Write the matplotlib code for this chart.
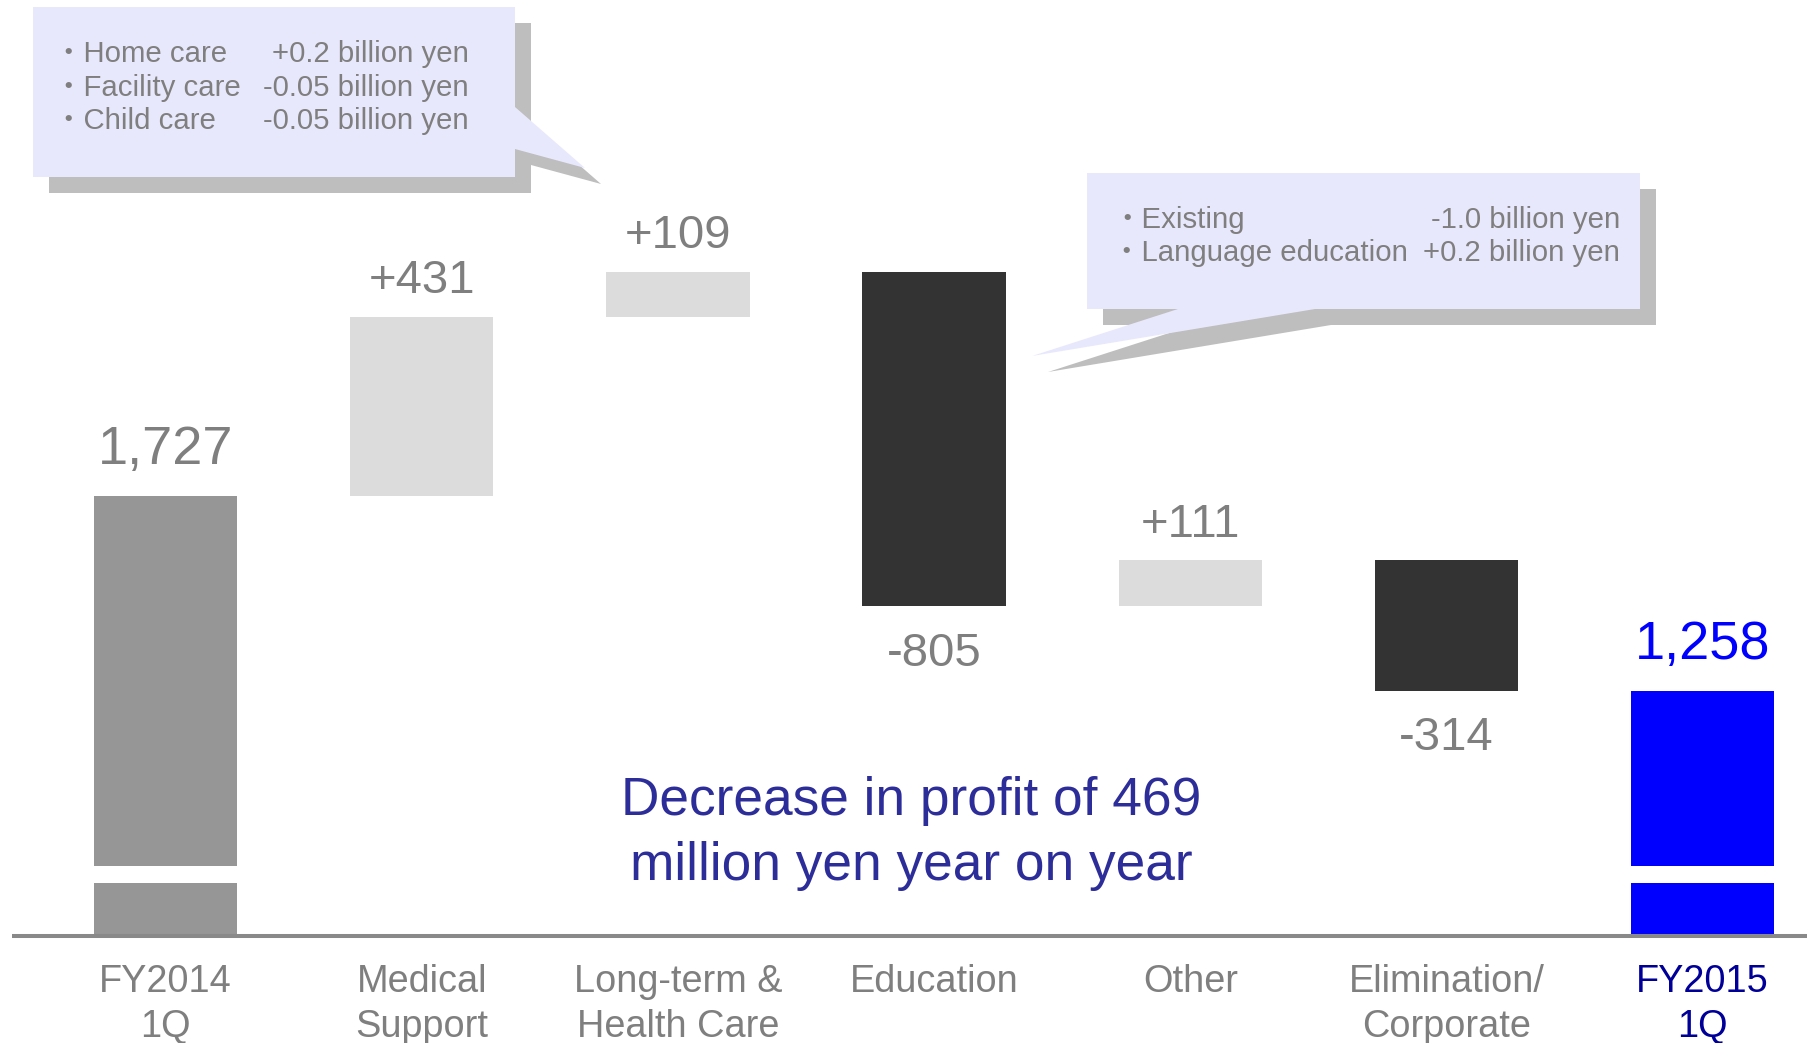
import matplotlib.pyplot as plt
from matplotlib.patches import Polygon

plt.rcParams['font.family'] = ['Liberation Sans', 'Noto Sans CJK JP', 'DejaVu Sans']

# -------------------------
# Data (million yen)
# -------------------------
categories = ["FY2014\n1Q", "Medical\nSupport", "Long-term &\nHealth Care",
              "Education", "Other", "Elimination/\nCorporate", "FY2015\n1Q"]
start_total = 1727
changes = [431, 109, -805, 111, -314]
end_total = 1258

note_lines = ["Decrease in profit of 469", "million yen year on year"]
callout_left = [("・Home care", "+0.2 billion yen"),
                ("・Facility care", "-0.05 billion yen"),
                ("・Child care", "-0.05 billion yen")]
callout_right = [("・Existing", "-1.0 billion yen"),
                 ("・Language education", "+0.2 billion yen")]

# broken value axis: totals start here, with a white cut band
axis_start = 669
cut_lo, cut_hi = 796, 837

# -------------------------
# Figure
# -------------------------
W, H = 1808, 1043
fig = plt.figure(figsize=(W / 100, H / 100), dpi=100)
ax = fig.add_axes([0, 0, 1, 1])
ax.axis("off")
ax.set_xlim(-0.646, 6.411)
ax.set_ylim(412, 2920)

def fx(px):
    return px / W

def fy(py):
    return 1 - py / H

gray_txt = "#7F7F7F"

# -------------------------
# Waterfall bars
# -------------------------
n = len(categories)
xs = list(range(n))
bottoms = [axis_start]
heights = [start_total - axis_start]
colors = ["#969696"]
level = start_total
for c in changes:
    bottoms.append(level if c > 0 else level + c)
    heights.append(abs(c))
    colors.append("#DCDCDC" if c > 0 else "#333333")
    level += c
bottoms.append(axis_start)
heights.append(end_total - axis_start)
colors.append("#0000FF")

ax.bar(xs, heights, bottom=bottoms, width=0.56, color=colors, zorder=2)
# axis break band on the total bars
ax.bar([0, n - 1], cut_hi - cut_lo, bottom=cut_lo, width=0.6, color="white", zorder=3)
# category axis line
ax.plot([-0.6, 6.411], [axis_start, axis_start], color="#898989", lw=2.9,
        solid_capstyle="butt", zorder=4)

# value labels
ax.annotate(f"{start_total:,}", (0, start_total), xytext=(0, 23), textcoords="offset points",
            ha="center", va="baseline", fontsize=39, color=gray_txt)
for i, c in enumerate(changes, start=1):
    if c > 0:
        ax.annotate(f"{c:+d}", (i, bottoms[i] + heights[i]), xytext=(0, 17),
                    textcoords="offset points", ha="center", va="baseline",
                    fontsize=34, color=gray_txt)
    else:
        ax.annotate(f"{c:+d}", (i, bottoms[i]), xytext=(0, -43),
                    textcoords="offset points", ha="center", va="baseline",
                    fontsize=34, color=gray_txt)
ax.annotate(f"{end_total:,}", (n - 1, end_total), xytext=(0, 23), textcoords="offset points",
            ha="center", va="baseline", fontsize=39, color="#0000FF")

# category labels
xt = ax.get_xaxis_transform()
for i, cat in enumerate(categories):
    col = "#000099" if i == n - 1 else gray_txt
    for j, line in enumerate(cat.split("\n")):
        ax.text(i, fy(992 + 45 * j), line, transform=xt, ha="center", va="baseline",
                fontsize=27.3, color=col)

# summary note
for j, line in enumerate(note_lines):
    ax.text(fx(911), fy(815 + 65 * j), line, transform=ax.transAxes, ha="center",
            va="baseline", fontsize=38.3, color="#2D2D9A", zorder=5)

# -------------------------
# Callouts
# -------------------------
def callout(pts, off):
    shadow = [(fx(x + off), fy(y + off)) for x, y in pts]
    face = [(fx(x), fy(y)) for x, y in pts]
    ax.add_patch(Polygon(shadow, closed=True, facecolor="#BEBEBE", edgecolor="none",
                         transform=ax.transAxes, zorder=5))
    ax.add_patch(Polygon(face, closed=True, facecolor="#E8E8FC", edgecolor="none",
                         transform=ax.transAxes, zorder=6))

callout([(33, 7), (515, 7), (515, 107), (585, 168), (515, 149), (515, 177), (33, 177)], 16)
callout([(1087, 173), (1640, 173), (1640, 309), (1315, 309), (1032, 356),
         (1178, 309), (1087, 309)], 16)

for j, (lab, val) in enumerate(callout_left):
    yb = fy(62 + 33.5 * j)
    ax.text(fx(54), yb, lab, transform=ax.transAxes, ha="left", va="baseline",
            fontsize=21.2, color=gray_txt, zorder=7)
    ax.text(fx(469), yb, val, transform=ax.transAxes, ha="right", va="baseline",
            fontsize=21.2, color=gray_txt, zorder=7)

for j, (lab, val) in enumerate(callout_right):
    yb = fy(228 + 33 * j)
    ax.text(fx(1112), yb, lab, transform=ax.transAxes, ha="left", va="baseline",
            fontsize=21.2, color=gray_txt, zorder=7)
    ax.text(fx(1620), yb, val, transform=ax.transAxes, ha="right", va="baseline",
            fontsize=21.2, color=gray_txt, zorder=7)

fig.savefig("out.png", dpi=100)
